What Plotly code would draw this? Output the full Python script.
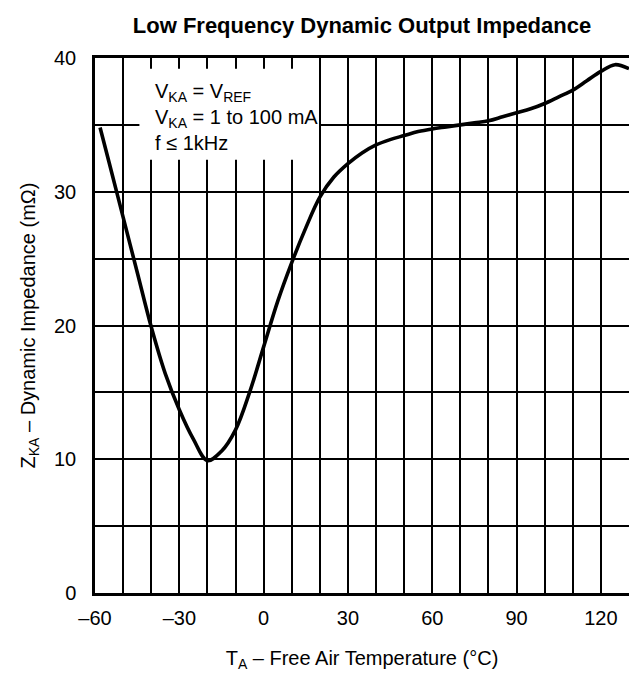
import plotly.graph_objects as go

temperature_c = [-58.2, -55, -50, -45, -40, -35, -30, -25, -20, -15, -10, -5, 0, 5, 10, 15, 20, 25, 30, 35, 40, 45, 50, 55, 60, 65, 70, 75, 80, 85, 90, 95, 100, 105, 110, 115, 120, 125, 130]
impedance_mohm = [34.8, 32.2, 28.1, 24.0, 19.9, 16.4, 13.7, 11.5, 9.9, 10.6, 12.2, 15.0, 18.4, 21.8, 24.7, 27.3, 29.6, 31.1, 32.1, 32.9, 33.5, 33.9, 34.2, 34.5, 34.7, 34.85, 35.0, 35.15, 35.3, 35.6, 35.9, 36.2, 36.6, 37.1, 37.6, 38.3, 39.0, 39.5, 39.2]

x_tick_vals = [-60, -30, 0, 30, 60, 90, 120]
x_tick_text = ["–60", "–30", "0", "30", "60", "90", "120"]
y_tick_vals = [0, 10, 20, 30, 40]
y_tick_text = ["0", "10", "20", "30", "40"]

note_lines = ["V<sub>KA</sub> = V<sub>REF</sub>", "V<sub>KA</sub> = 1 to 100 mA", "f ≤ 1kHz"]

FONT = "Liberation Sans, Arial, Helvetica, sans-serif"

fig = go.Figure()
fig.add_trace(go.Scatter(
    x=temperature_c, y=impedance_mohm, mode="lines",
    line=dict(color="black", width=3.6, shape="spline", smoothing=1.0),
    showlegend=False, hoverinfo="skip"))

# white note box
fig.add_shape(type="rect", xref="x", yref="y", x0=-44.2, x1=19.7, y0=32.4, y1=39.2,
              fillcolor="white", line=dict(width=0), layer="above")
fig.add_annotation(xref="x", yref="y", x=-39.4, y=35.6, xanchor="left", yanchor="middle",
                   text="<br>".join(note_lines), showarrow=False, align="left",
                   font=dict(family=FONT, size=20, color="black"))

axis_common = dict(showline=True, linecolor="black", linewidth=2.5, mirror=True,
                   showgrid=True, gridcolor="black", gridwidth=1.8, zeroline=False,
                   ticks="", tickfont=dict(family=FONT, size=20, color="black"))

fig.update_xaxes(range=[-60, 130], tickmode="array", tickvals=x_tick_vals, ticktext=x_tick_text,
                 minor=dict(dtick=10, tick0=-60, showgrid=True, gridcolor="black", gridwidth=1.8, ticks=""),
                 title=dict(text="T<sub>A</sub> – Free Air Temperature (°C)", standoff=24,
                            font=dict(family=FONT, size=20, color="black")),
                 ticklabelstandoff=5,
                 **axis_common)
fig.update_yaxes(range=[0, 40], tickmode="array", tickvals=y_tick_vals, ticktext=y_tick_text,
                 minor=dict(dtick=5, tick0=0, showgrid=True, gridcolor="black", gridwidth=1.8, ticks=""),
                 title=dict(text="Z<sub>KA</sub> – Dynamic Impedance (mΩ)", standoff=14,
                            font=dict(family=FONT, size=20, color="black")),
                 ticklabelstandoff=12,
                 **axis_common)

fig.update_layout(
    width=629, height=673,
    margin=dict(l=95, r=0, t=58, b=80, autoexpand=False),
    paper_bgcolor="white", plot_bgcolor="white",
    title=dict(text="<b>Low Frequency Dynamic Output Impedance</b>", x=(95 + 629) / 2 / 629, xanchor="center",
               y=1 - 25.5 / 673, yanchor="middle",
               font=dict(family=FONT, size=22, color="black")),
    font=dict(family=FONT, color="black"),
)

fig.write_html("out.html", config={"displayModeBar": False},
               post_script="document.body.style.margin='0';")
